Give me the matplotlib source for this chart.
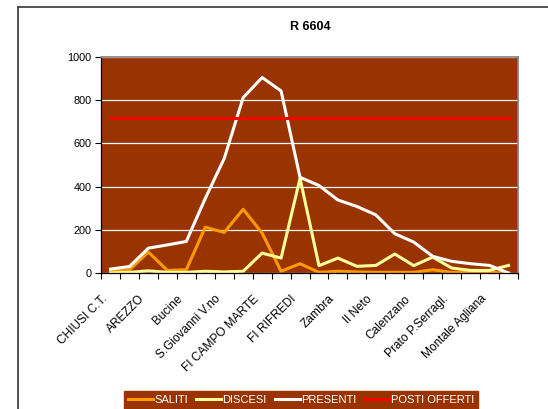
import matplotlib.pyplot as plt
import matplotlib.transforms as mtransforms
import numpy as np

plt.rcParams['font.family'] = ['Liberation Sans', 'DejaVu Sans']

# 22 stops, label shown every other stop
stations = ['CHIUSI C.T.', '', 'AREZZO', '', 'Bucine', '', 'S.Giovanni V.no', '',
            'FI CAMPO MARTE', '', 'FI RIFREDI', '', 'Zambra', '', 'Il Neto', '',
            'Calenzano', '', 'Prato P.Serragl.', '', 'Montale Agliana', '']
saliti = [8, 15, 97, 12, 15, 212, 188, 295, 185, 8, 43, 3, 8, 5, 3, 3, 3, 15, 3, 3, 3, 0]
discesi = [0, 3, 10, 3, 3, 8, 5, 8, 92, 69, 438, 34, 69, 31, 35, 88, 34, 74, 23, 12, 12, 35]
presenti = [18, 30, 115, 130, 146, 345, 530, 812, 905, 843, 443, 405, 338, 308, 269, 182,
            143, 77, 54, 43, 35, 0]
posti_offerti = [718] * 22

fig = plt.figure(figsize=(5.48, 4.09), dpi=100)
ax = fig.add_axes([101/548, 1 - 273/409, 417/548, 216/409])
ax.set_facecolor('#993300')

x = np.arange(len(stations))
lw = 2.2
ax.plot(x, saliti, color='#FF9900', lw=lw, label='SALITI')
ax.plot(x, discesi, color='#FFFF99', lw=lw, label='DISCESI')
ax.plot(x, presenti, color='white', lw=lw, label='PRESENTI')
ax.plot(x, posti_offerti, color='#FF0000', lw=lw, label='POSTI OFFERTI')

ax.set_xlim(-0.5, len(stations) - 0.5)
ax.set_ylim(0, 1000)
ax.set_yticks(range(0, 1001, 200))
ax.yaxis.grid(True, color='white', lw=0.9)
ax.set_axisbelow(True)

# category labels, rotated like Excel does them
ax.set_xticks([])
ax.set_xticks(np.arange(-0.5, len(stations), 1), minor=True)
ax.tick_params(axis='x', which='minor', length=4, direction='out', width=0.8)
lab_tr = mtransforms.blended_transform_factory(ax.transData, ax.transAxes) + \
    mtransforms.ScaledTranslation(-0.095, -0.20, fig.dpi_scale_trans)
for i, name in enumerate(stations):
    if name:
        ax.text(i, 0, name, transform=lab_tr, rotation=45, ha='right', va='top',
                rotation_mode='anchor', fontsize=8.6)
ax.tick_params(axis='y', length=4, direction='out', width=0.8, labelsize=7.8, pad=3)

for side in ['top', 'right']:
    ax.spines[side].set_color('#808080')
    ax.spines[side].set_linewidth(1.2)
for side in ['left', 'bottom']:
    ax.spines[side].set_color('black')
    ax.spines[side].set_linewidth(0.9)

fig.text(310/548, 1 - 27/409, 'R 6604', ha='center', va='center',
         fontsize=9, fontweight='bold')

# outer chart border (left and top edges visible)
fig.add_artist(plt.Line2D([18/548, 18/548], [0, 1 - 7/409], color='#333333', lw=1.2))
fig.add_artist(plt.Line2D([18/548, 1], [1 - 7/409, 1 - 7/409], color='#333333', lw=1.2))

leg = fig.legend(loc='upper center', bbox_to_anchor=(301/548, 1 - 391/409), ncol=4,
                 frameon=True, facecolor='#993300', edgecolor='#993300', framealpha=1,
                 fancybox=False, fontsize=8, handlelength=2.3, handletextpad=0.1,
                 columnspacing=0.7, borderpad=0.35, borderaxespad=0, labelcolor='white')

fig.savefig('out.png', dpi=100)
